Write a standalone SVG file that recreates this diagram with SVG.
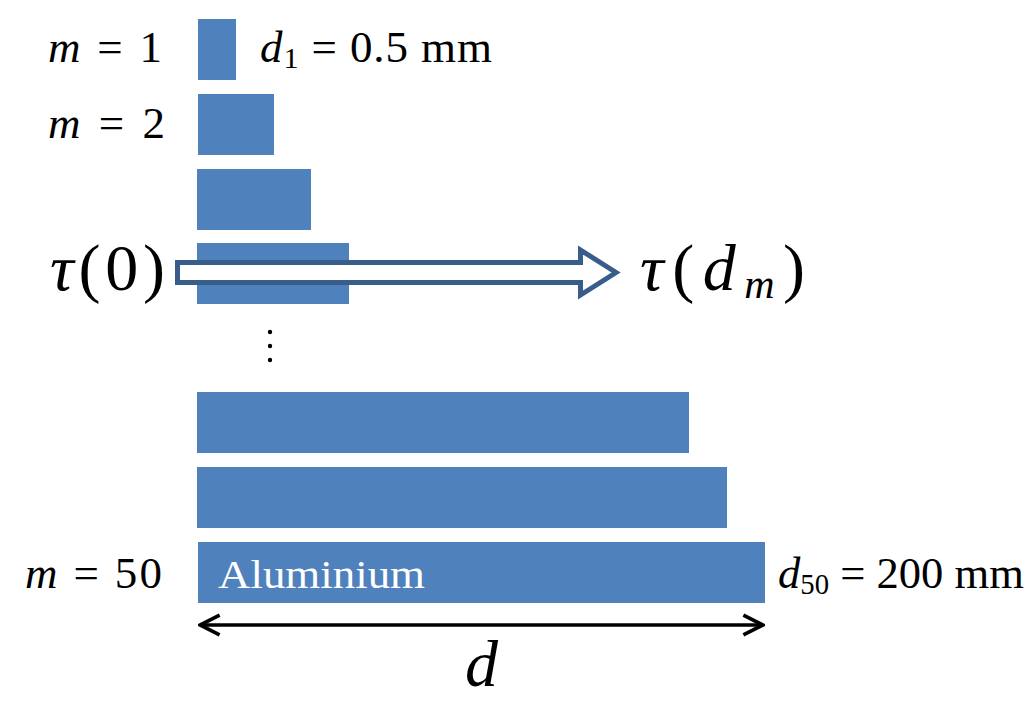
<svg xmlns="http://www.w3.org/2000/svg" width="1030" height="701" viewBox="0 0 1030 701">
<style>
.bar{fill:#4F81BD}
text{font-family:"Liberation Serif","DejaVu Serif","Times New Roman",serif;fill:#000}
.i{font-style:italic}
.big{font-size:66px}
.mid{font-size:45px}
</style>
<defs>
<marker id="ah" viewBox="0 0 20 20" refX="18" refY="10" markerWidth="7" markerHeight="7" orient="auto-start-reverse" markerUnits="strokeWidth">
<path d="M2,2 L18,10 L2,18" fill="none" stroke="#000" stroke-width="3"/>
</marker>
</defs>
<rect width="1030" height="701" fill="#fff"/>
<g id="bar1"><rect class="bar" x="198" y="19" width="38" height="61"/></g>
<g id="bar2"><rect class="bar" x="198" y="94" width="76" height="61"/></g>
<g id="bar3"><rect class="bar" x="197" y="169" width="114" height="61"/></g>
<g id="bar4"><rect class="bar" x="197" y="243" width="152" height="61"/></g>
<g id="bar48"><rect class="bar" x="197" y="392" width="492" height="61"/></g>
<g id="bar49"><rect class="bar" x="197" y="467" width="530" height="61"/></g>
<g id="bar50"><rect class="bar" x="198" y="542" width="567" height="61"/>
<text x="218" y="588" font-family="Liberation Serif, serif" font-size="40" style="fill:#fff" textLength="207" lengthAdjust="spacingAndGlyphs">Aluminium</text></g>
<g id="labels">
<text class="mid" x="48" y="62" font-family="Liberation Serif, serif" textLength="114" lengthAdjust="spacing"><tspan class="i">m</tspan> = 1</text>
<text class="mid" x="48" y="138" font-family="Liberation Serif, serif" textLength="117" lengthAdjust="spacing"><tspan class="i">m</tspan> = 2</text>
<text class="mid" x="25" y="588" font-family="Liberation Serif, serif" textLength="137" lengthAdjust="spacing"><tspan class="i">m</tspan> = 50</text>
<text class="mid" x="260" y="62" font-family="Liberation Serif, serif" textLength="232" lengthAdjust="spacing"><tspan class="i">d</tspan><tspan font-size="30" dy="6">1</tspan><tspan dy="-6"> = 0.5 mm</tspan></text>
<text class="mid" x="778" y="588" font-family="Liberation Serif, serif" font-size="43" textLength="246" lengthAdjust="spacingAndGlyphs"><tspan class="i">d</tspan><tspan font-size="29" dy="6">50</tspan><tspan dy="-6"> = 200 mm</tspan></text>
<text class="big" x="50" y="290" font-family="Liberation Serif, serif" textLength="115" lengthAdjust="spacing"><tspan class="i">τ</tspan>(0)</text>
<text class="big" x="640" y="290" font-family="Liberation Serif, serif" textLength="165" lengthAdjust="spacing"><tspan class="i">τ</tspan>(<tspan class="i">d</tspan><tspan class="i" font-size="42" dy="8">m</tspan><tspan dy="-8">)</tspan></text>
<text class="big i" x="465" y="686" font-family="Liberation Serif, serif">d</text>
<circle cx="270" cy="332" r="2.2" fill="#000"/>
<circle cx="270" cy="346" r="2.2" fill="#000"/>
<circle cx="270" cy="360" r="2.2" fill="#000"/>
</g>
<g id="connectors">
<path d="M177.5,262.5 H580.5 V250 L616,272.5 L580.5,295 V282.5 H177.5 Z" fill="#fff" stroke="#385D8A" stroke-width="5" stroke-linejoin="miter"/>
<line x1="200" y1="625" x2="763" y2="625" stroke="#000" stroke-width="3.5" marker-start="url(#ah)" marker-end="url(#ah)"/>
</g>
</svg>
